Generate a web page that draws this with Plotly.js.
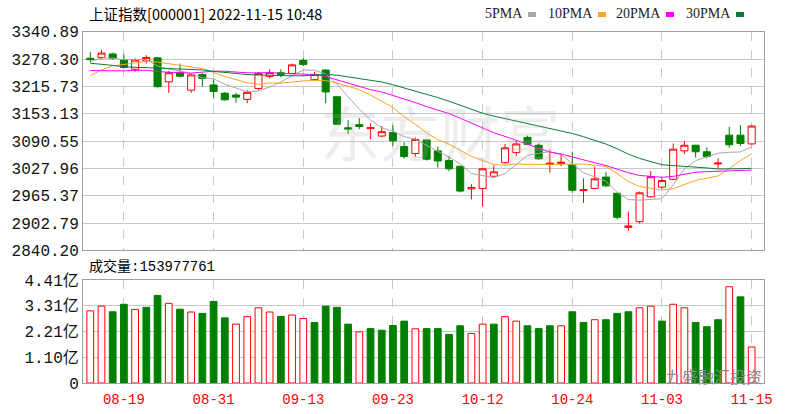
<!DOCTYPE html>
<html><head><meta charset="utf-8">
<script src="https://cdn.plot.ly/plotly-3.0.1.min.js"></script>
<style>html,body{margin:0;padding:0;background:#fff}#chart{width:795px;height:414px}</style>
</head><body><div id="chart"></div>
<script>
const dates = ['08-16','08-17','08-18','08-19','08-22','08-23','08-24','08-25','08-26','08-29',
'08-30','08-31','09-01','09-02','09-05','09-06','09-07','09-08','09-09','09-13',
'09-14','09-15','09-16','09-19','09-20','09-21','09-22','09-23','09-26','09-27',
'09-28','09-29','09-30','10-10','10-11','10-12','10-13','10-14','10-17','10-18',
'10-19','10-20','10-21','10-24','10-25','10-26','10-27','10-28','10-31','11-01',
'11-02','11-03','11-04','11-07','11-08','11-09','11-10','11-11','11-14','11-15'];
const open = [3280,3282,3290,3276,3255,3274,3281,3226,3248,3207,
3243,3219,3200,3196,3186,3211,3238,3247,3245,3275,
3231,3253,3192,3121,3128,3119,3102,3110,3078,3062,
3093,3068,3046,3033,2981,2982,3010,3041,3064,3099,
3081,3037,3039,3036,2977,2982,3008,2971,2893,2906,
2963,2985,3003,3068,3081,3066,3038,3104,3104,3084];
const high = [3294,3299,3293,3289,3280,3287,3283,3251,3268,3245,
3246,3232,3203,3201,3207,3249,3255,3255,3268,3280,
3249,3255,3193,3139,3143,3131,3125,3127,3088,3099,
3094,3078,3056,3034,2992,3030,3035,3084,3093,3103,
3085,3071,3062,3066,3005,3032,3020,2972,2929,2975,
3022,3005,3085,3091,3082,3076,3051,3123,3127,3127];
const low = [3270,3278,3277,3257,3249,3268,3213,3201,3236,3201,
3215,3188,3183,3178,3177,3207,3234,3236,3244,3262,
3229,3177,3127,3107,3118,3095,3099,3079,3050,3055,
3046,3030,3022,2973,2957,2940,3007,3039,3056,3081,
3047,3018,3033,2972,2949,2981,2985,2911,2885,2902,
2961,2980,3001,3061,3053,3051,3028,3075,3079,3082];
const close = [3277,3292,3280,3259,3276,3282,3215,3247,3239,3242,
3234,3204,3185,3191,3202,3245,3247,3243,3265,3266,
3243,3203,3129,3118,3124,3121,3112,3091,3055,3094,
3049,3045,3027,2976,2984,3027,3020,3075,3084,3083,
3050,3040,3042,2978,2979,3004,2988,2916,2896,2972,
3009,3000,3072,3081,3066,3055,3040,3082,3085,3125];
// volume in 亿
const volume = [3.09,3.29,3.05,3.37,3.15,3.24,3.75,3.41,3.16,3.04,
2.98,3.49,2.79,2.52,2.84,3.22,3.04,2.85,2.91,2.76,
2.59,3.29,3.24,2.52,2.19,2.33,2.26,2.46,2.65,2.32,
2.33,2.33,2.08,2.45,2.12,2.52,2.52,2.84,2.65,2.45,
2.33,2.45,2.45,3.05,2.59,2.71,2.71,2.98,3.05,3.22,
3.29,2.65,3.37,3.22,2.59,2.41,2.71,4.12,3.69,1.54];
const volUp = [1,1,0,0,1,0,0,1,0,1,
0,0,0,1,1,1,1,0,1,1,
0,0,0,0,1,0,0,0,0,1,
0,0,0,0,1,1,0,1,1,0,
0,0,1,0,0,1,0,0,0,1,
1,0,1,1,0,0,0,1,0,1];
const ma5 = [3272,3280.8,3280.4,3276.8,3276.8,3277.4,3262.0,3255.4,3251.4,3244.6,
3235.4,3233.2,3220.8,3211.2,3203.2,3205.4,3214.0,3225.6,3240.4,3253.2,
3252.8,3244.0,3221.2,3191.8,3163.4,3139.0,3120.8,3113.2,3100.6,3094.6,
3080.2,3066.8,3054.0,3038.2,3016.2,3011.8,3006.8,3016.4,3038.0,3057.8,
3062.4,3066.4,3059.8,3038.6,3017.8,3008.6,2998.2,2973.0,2956.6,2955.2,
2956.2,2958.6,2989.8,3026.8,3045.6,3054.8,3062.8,3064.8,3065.6,3077.4];
const ma10 = [3240.6,3253.4,3262.5,3265.7,3269.6,3272.9,3271.4,3267.9,3264.1,3260.7,
3256.4,3247.6,3238.1,3231.3,3223.9,3220.4,3223.6,3223.2,3225.8,3228.2,
3229.1,3229.0,3223.4,3216.1,3208.3,3195.9,3182.4,3167.2,3146.2,3129.0,
3109.6,3093.8,3083.6,3069.4,3055.4,3046.0,3036.8,3035.2,3038.1,3037.0,
3037.1,3036.6,3038.1,3038.3,3037.8,3035.5,3032.3,3016.4,2997.6,2986.5,
2982.4,2978.4,2981.4,2991.7,3000.4,3005.5,3010.7,3027.3,3046.2,3061.5];
const ma20 = [3252.0,3251.3,3251.7,3251.1,3252.4,3252.6,3249.5,3247.7,3247.0,3246.1,
3248.5,3250.5,3250.3,3248.5,3246.8,3246.7,3247.5,3245.6,3245.0,3244.5,
3242.8,3238.3,3230.8,3223.7,3216.1,3208.2,3203.0,3195.2,3186.0,3178.6,
3169.4,3161.4,3153.5,3142.8,3131.9,3121.0,3109.6,3101.2,3092.2,3083.0,
3073.4,3065.2,3060.9,3053.9,3046.6,3040.8,3034.6,3025.8,3017.9,3011.8,
3009.8,3007.5,3009.8,3015.0,3019.1,3020.5,3021.5,3021.9,3021.9,3024.0];
const ma30 = [3268.7,3266.6,3263.8,3260.5,3259.3,3259.2,3256.9,3255.8,3256.1,3254.9,
3253.4,3250.0,3247.1,3244.5,3242.9,3241.8,3240.9,3239.5,3239.9,3240.1,
3242.0,3243.3,3241.3,3237.7,3233.9,3229.7,3225.8,3219.4,3212.0,3206.0,
3198.4,3190.1,3181.7,3172.3,3162.5,3154.1,3147.6,3141.9,3136.7,3131.4,
3125.3,3119.8,3115.0,3107.9,3100.5,3092.5,3083.8,3072.9,3060.6,3050.8,
3043.0,3036.3,3034.4,3033.1,3031.2,3029.0,3026.6,3026.3,3027.2,3028.2];
const dateTicks = ['08-19','08-31','09-13','09-23','10-12','10-24','11-03','11-15'];
const priceTicks = [2840.20,2902.79,2965.37,3027.96,3090.55,3153.13,3215.73,3278.30,3340.89];
const volTicks = [0,1.10,2.21,3.31,4.41];
const volTickText = ['0','1.10亿','2.21亿','3.31亿','4.41亿'];
const maNames = ['5PMA','10PMA','20PMA','30PMA'];
const maColors = ['#a8a8a8','#f5a623','#ff00ff','#0b7a3a'];
const titleText = '上证指数[000001] 2022-11-15 10:48';
const volLabel = '成交量:153977761';

// pixel helpers (layout only)
const L=83, R=764, T=31, B=383;
const px = v => (v - L) / (R - L);
const py = v => (B - v) / (B - T);

const RED='#ff0000', GREEN='#008000', GRID='#c8c8c8', FRAME='#a0a0a0';
const mono = 'Liberation Mono, Noto Sans CJK SC, monospace';
const cjk = 'Noto Sans CJK SC, sans-serif';

const traces = [
  {type:'candlestick', x:dates, open:open, high:high, low:low, close:close,
   xaxis:'x', yaxis:'y', whiskerwidth:0, hoverinfo:'skip', showlegend:false,
   increasing:{line:{color:RED,width:1}, fillcolor:'#ffffff'},
   decreasing:{line:{color:GREEN,width:1}, fillcolor:GREEN}},
  {type:'bar', x:dates, y:volume, xaxis:'x2', yaxis:'y2', showlegend:false, hoverinfo:'skip',
   marker:{color:volUp.map(u=>u?'#ffffff':GREEN), line:{color:volUp.map(u=>u?RED:GREEN), width:1}}}
];
[ma5,ma10,ma20,ma30].forEach((m,i)=>{
  traces.push({type:'scatter', mode:'lines', x:dates, y:m, xaxis:'x', yaxis:'y',
    line:{color:maColors[i], width:1}, hoverinfo:'skip', showlegend:false, name:maNames[i]});
});

const annotations = [
  {xref:'paper', yref:'paper', x:px(87), y:py(14), xanchor:'left', yanchor:'middle', showarrow:false,
   text:titleText, font:{family:cjk, size:14.5, color:'#000'}},
  {xref:'paper', yref:'paper', x:px(87), y:py(266), xanchor:'left', yanchor:'middle', showarrow:false,
   text:volLabel, font:{family:mono, size:14, color:'#000'}},
  {xref:'paper', yref:'paper', x:px(440), y:py(130), xanchor:'center', yanchor:'middle', showarrow:false,
   text:'东方财富', font:{family:cjk, size:60, color:'rgba(175,175,175,0.22)'}},
  {xref:'paper', yref:'paper', x:px(714), y:py(376), xanchor:'center', yanchor:'middle', showarrow:false,
   text:'九盛融汇投资', font:{family:cjk, size:16, color:'#8a8a8a'}}
];
const legendRight = [525, 595, 663, 733];
const shapes = [];
maNames.forEach((n,i)=>{
  annotations.push({xref:'paper', yref:'paper', x:px(legendRight[i]), y:py(14), xanchor:'right', yanchor:'middle',
    showarrow:false, text:n, font:{family:'Liberation Serif, serif', size:14, color:'#222'}});
  shapes.push({type:'rect', xref:'paper', yref:'paper', x0:px(legendRight[i]+3), x1:px(legendRight[i]+11),
    y0:py(17), y1:py(12), fillcolor:maColors[i], line:{width:0}});
});

const axisCommon = {showline:true, mirror:true, linecolor:FRAME, linewidth:1, zeroline:false, ticks:'', fixedrange:true};
const layout = {
  width:795, height:414, margin:{l:L, r:795-R, t:T, b:414-B}, paper_bgcolor:'#fff', plot_bgcolor:'#fff',
  showlegend:false, bargap:0.4, boxgap:0.3, boxgroupgap:0.1,
  xaxis:Object.assign({}, axisCommon, {domain:[0,1], anchor:'y', type:'category', range:[-0.65,60.1],
    tickvals:dateTicks, showticklabels:false, showgrid:true, gridcolor:GRID, griddash:'dash', gridwidth:1,
    rangeslider:{visible:false}}),
  xaxis2:Object.assign({}, axisCommon, {domain:[0,1], anchor:'y2', type:'category', matches:'x', range:[-0.65,60.1],
    tickvals:dateTicks, ticktext:dateTicks, showgrid:true, gridcolor:GRID, griddash:'dash', gridwidth:1,
    ticklabelstandoff:3, tickfont:{family:mono, size:14, color:RED}, rangeslider:{visible:false}}),
  yaxis:Object.assign({}, axisCommon, {domain:[py(250.4), py(31.7)], anchor:'x', range:[2840.20,3340.89],
    tickvals:priceTicks, ticktext:priceTicks.map(v=>v.toFixed(2)), showgrid:true, gridcolor:GRID, gridwidth:1,
    tickfont:{family:mono, size:16, color:'#111'}}),
  yaxis2:Object.assign({}, axisCommon, {domain:[0, py(280)], anchor:'x2', range:[0,4.41],
    tickvals:volTicks, ticktext:volTickText, showgrid:true, gridcolor:GRID, gridwidth:1,
    tickfont:{family:mono, size:16, color:'#111'}}),
  annotations:annotations, shapes:shapes
};
Plotly.newPlot('chart', traces, layout, {displayModeBar:false, staticPlot:true});
</script></body></html>
